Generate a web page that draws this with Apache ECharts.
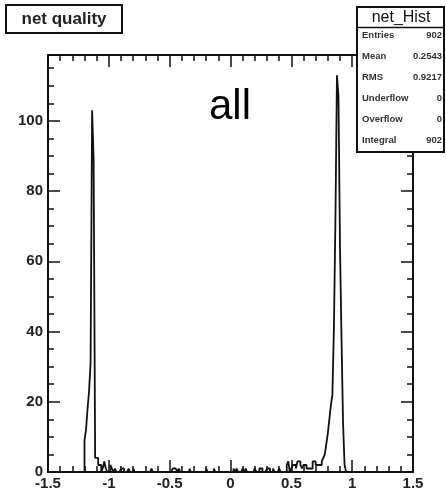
<!DOCTYPE html>
<html>
<head>
<meta charset="utf-8">
<script src="https://cdn.jsdelivr.net/npm/echarts@6/dist/echarts.min.js"></script>
<style>
  html, body { margin: 0; padding: 0; background: #fff; }
  #chart { width: 446px; height: 494px; }
</style>
</head>
<body>
<div id="chart"></div>
<script>
// histogram binning: 240 bins on [-1.5, 1.5]
var binWidth = 0.0125;
var xMin = -1.5;
var xMax = 1.5;

// lower edges of the non-empty bins and their counts
var binLo = [
  -1.2, -1.1875, -1.175, -1.1625, -1.15, -1.1375, -1.125, -1.1125, -1.1, -1.0875,
  -1.075, -1.05, -1.0375, -1.025, -0.9875, -0.975, -0.95, -0.9, -0.8875, -0.8375,
  -0.8, -0.65, -0.475, -0.4625, -0.45, -0.425, -0.3375, -0.2, -0.1375,
  0.025, 0.05, 0.1, 0.125, 0.2, 0.2375, 0.25, 0.3, 0.3125, 0.35, 0.4,
  0.4625, 0.475, 0.5, 0.5125, 0.525, 0.5375, 0.55, 0.5625, 0.575, 0.5875,
  0.6, 0.6125, 0.625, 0.6375, 0.65, 0.6625, 0.675, 0.6875, 0.7, 0.7125,
  0.725, 0.7375, 0.75, 0.7625, 0.775, 0.7875, 0.8, 0.8125, 0.825, 0.8375,
  0.85, 0.8625, 0.875, 0.8875, 0.9, 0.9125, 0.925, 0.9375
];
var binCount = [
  9, 12, 18, 23, 31, 103, 89, 4, 4, 2,
  2, 1, 3, 1, 2, 1, 1, 1, 1, 1,
  1, 1, 1, 1, 1, 1, 1, 1, 1,
  1, 1, 1, 1, 1, 1, 1, 1, 1, 1, 1,
  2, 3, 1, 2, 2, 1, 3, 3, 2, 1,
  2, 2, 1, 1, 1, 1, 3, 3, 2, 2,
  2, 2, 3, 4, 5, 8, 11, 15, 19, 22,
  41, 72, 113, 107, 64, 38, 14, 2
];

var xTicks = [-1.5, -1, -0.5, 0, 0.5, 1, 1.5];
var yTicks = [0, 20, 40, 60, 80, 100];
var yMax = 118.75;

var statNames = ["Entries", "Mean", "RMS", "Underflow", "Overflow", "Integral"];
var statValues = ["902", "0.2543", "0.9217", "0", "0", "902"];

function buildSteps() {
  var n = Math.round((xMax - xMin) / binWidth);
  var counts = [];
  for (var i = 0; i < n; i++) counts.push(0);
  binLo.forEach(function (lo, k) {
    var idx = Math.round((lo - xMin) / binWidth);
    counts[idx] = binCount[k];
  });
  var pts = [];
  for (var j = 0; j < n; j++) {
    pts.push([xMin + j * binWidth, counts[j]]);
  }
  pts.push([xMax, 0]);
  return pts;
}

var ink = "#111";
var font = "Liberation Sans, Arial, sans-serif";

function xAxisCfg(pos, labels) {
  return {
    type: "value",
    position: pos,
    min: xTicks[0],
    max: xTicks[xTicks.length - 1],
    interval: 0.5,
    axisLine: { show: true, onZero: false, lineStyle: { color: ink, width: 2 } },
    axisTick: { show: true, inside: true, length: 12, lineStyle: { color: ink, width: 1.5 } },
    minorTick: { show: true, splitNumber: 5, length: 6, lineStyle: { color: ink, width: 1.5 } },
    axisLabel: {
      show: labels,
      color: "#222",
      fontFamily: font,
      fontWeight: "bold",
      fontSize: 15,
      margin: 4
    },
    splitLine: { show: false }
  };
}

function yAxisCfg(pos, labels) {
  return {
    type: "value",
    position: pos,
    min: 0,
    max: yMax,
    interval: 20,
    axisLine: { show: true, onZero: false, lineStyle: { color: ink, width: 2 } },
    axisTick: { show: true, inside: true, length: 12, lineStyle: { color: ink, width: 1.5 } },
    minorTick: { show: true, splitNumber: 4, length: 6, lineStyle: { color: ink, width: 1.5 } },
    axisLabel: {
      show: labels,
      showMaxLabel: false,
      color: "#222",
      fontFamily: font,
      fontWeight: "bold",
      fontSize: 15,
      margin: 5
    },
    splitLine: { show: false }
  };
}

function statsGraphics() {
  var g = [
    {
      type: "rect",
      z: 100,
      shape: { x: 357, y: 7, width: 87, height: 145 },
      style: { fill: "#fff", stroke: ink, lineWidth: 2 }
    },
    {
      type: "line",
      z: 101,
      shape: { x1: 357, y1: 27.5, x2: 444, y2: 27.5 },
      style: { stroke: ink, lineWidth: 1.5 }
    },
    {
      type: "text",
      z: 101,
      x: 401,
      y: 17.5,
      style: {
        text: "net_Hist",
        fill: ink,
        font: "16px " + font,
        textAlign: "center",
        textVerticalAlign: "middle"
      }
    }
  ];
  var rowY = [35, 56.5, 77, 98, 119, 140];
  statNames.forEach(function (name, i) {
    g.push({
      type: "text",
      z: 101,
      x: 362,
      y: rowY[i],
      style: {
        text: name,
        fill: "#333",
        font: "bold 9.5px " + font,
        textAlign: "left",
        textVerticalAlign: "middle"
      }
    });
    g.push({
      type: "text",
      z: 101,
      x: 442,
      y: rowY[i],
      style: {
        text: statValues[i],
        fill: "#333",
        font: "bold 9.5px " + font,
        textAlign: "right",
        textVerticalAlign: "middle"
      }
    });
  });
  return g;
}

var chart = echarts.init(document.getElementById("chart"), null, { renderer: "canvas" });

var option = {
  backgroundColor: "#fff",
  animation: false,
  grid: {
    left: 48,
    right: 33,
    top: 55,
    bottom: 22,
    outerBoundsMode: "none"
  },
  xAxis: [xAxisCfg("bottom", true), xAxisCfg("top", false)],
  yAxis: [yAxisCfg("left", true), yAxisCfg("right", false)],
  series: [
    {
      type: "line",
      xAxisIndex: 0,
      yAxisIndex: 0,
      step: "end",
      symbol: "none",
      silent: true,
      data: buildSteps(),
      lineStyle: { color: ink, width: 1.8 }
    }
  ],
  graphic: {
    elements: [
      {
        type: "rect",
        z: 100,
        shape: { x: 6, y: 5, width: 116, height: 28 },
        style: { fill: "#fff", stroke: ink, lineWidth: 2 }
      },
      {
        type: "text",
        z: 101,
        x: 64,
        y: 19,
        style: {
          text: "net quality",
          fill: "#222",
          font: "bold 17px " + font,
          textAlign: "center",
          textVerticalAlign: "middle"
        }
      },
      {
        type: "text",
        z: 101,
        x: 230,
        y: 107,
        style: {
          text: "all",
          fill: "#000",
          font: "42px " + font,
          textAlign: "center",
          textVerticalAlign: "middle"
        }
      }
    ].concat(statsGraphics())
  }
};

chart.setOption(option);
</script>
</body>
</html>
